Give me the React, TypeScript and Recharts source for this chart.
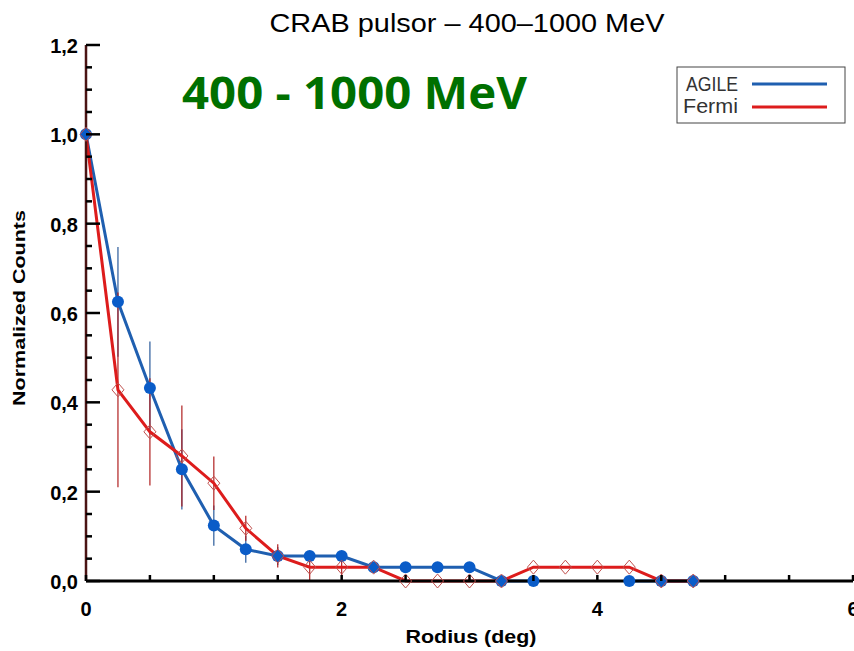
import React from 'react';
import { LineChart, Line, XAxis, YAxis, ErrorBar } from 'recharts';

// radial profile, normalized counts per annulus
const radius = [0, 0.25, 0.5, 0.75, 1, 1.25, 1.5, 1.75, 2, 2.25, 2.5, 2.75, 3, 3.25, 3.5, 3.75, 4, 4.25, 4.5, 4.75];
const agile = [1.0, 0.625, 0.432, 0.25, 0.124, 0.071, 0.056, 0.056, 0.056, 0.031, 0.031, 0.031, 0.031, 0.0, 0.0, null, null, 0.0, 0.0, 0.0];
const agileErr = [0, 0.123, 0.104, 0.09, 0.045, 0.03, 0.02, 0, 0, 0, 0, 0, 0, 0, 0, 0, 0, 0, 0, 0];
const fermi = [1.0, 0.428, 0.334, 0.28, 0.219, 0.118, 0.056, 0.031, 0.031, 0.031, 0, 0, 0, 0, 0.031, 0.031, 0.031, 0.031, 0, 0];
const fermiErr = [0, 0.218, 0.12, 0.113, 0.06, 0.028, 0.026, 0.03, 0.03, 0, 0, 0, 0, 0, 0, 0, 0, 0, 0, 0];

const xTicks = [0, 0.5, 1, 1.5, 2, 2.5, 3, 3.5, 4, 4.5, 5, 5.5, 6];
const xTickLabels: Record<string, string> = { '0': '0', '2': '2', '4': '4', '6': '6' };
const yTicks = [0, 0.05, 0.1, 0.15, 0.2, 0.25, 0.3, 0.35, 0.4, 0.45, 0.5, 0.55, 0.6, 0.65, 0.7, 0.75, 0.8, 0.85, 0.9, 0.95, 1, 1.05, 1.1, 1.15, 1.2];
const yTickLabels: Record<string, string> = {
  '0': '0,0', '0.2': '0,2', '0.4': '0,4', '0.6': '0,6', '0.8': '0,8', '1': '1,0', '1.2': '1,2',
};

const data = radius.map((r, i) => ({
  r,
  agile: agile[i],
  agileErr: agileErr[i],
  fermi: fermi[i],
  fermiErr: fermiErr[i],
}));

const AXIS_FONT = '"Liberation Sans", Arial, sans-serif';

const LeftTick = (props: any) => {
  const { x, y, payload } = props;
  const label = yTickLabels[String(payload.value)];
  return (
    <g>
      <line x1={x} x2={x + (label ? 14 : 6)} y1={y} y2={y} stroke="#000" strokeWidth={2.5} />
      {label && (
        <text x={x - 8} y={y + 8} textAnchor="end" fontFamily={AXIS_FONT} fontWeight="bold" fontSize={20} fill="#000">
          {label}
        </text>
      )}
    </g>
  );
};

const RightTick = (props: any) => {
  const { x, y, payload } = props;
  const major = yTickLabels[String(payload.value)] !== undefined;
  return <line x1={x} x2={x - (major ? 10 : 3)} y1={y} y2={y} stroke="#000" strokeWidth={2.5} />;
};

const BottomTick = (props: any) => {
  const { x, y, payload } = props;
  const label = xTickLabels[String(payload.value)];
  return (
    <g>
      <line x1={x} x2={x} y1={y} y2={y - 6} stroke="#000" strokeWidth={2.5} />
      {label && (
        <text x={x} y={y + 35} textAnchor="middle" fontFamily={AXIS_FONT} fontWeight="bold" fontSize={20} fill="#000">
          {label}
        </text>
      )}
    </g>
  );
};

const TopTick = (props: any) => {
  const { x, y } = props;
  return <line x1={x} x2={x} y1={y} y2={y + 5} stroke="#000" strokeWidth={2.5} />;
};

const Diamond = (props: any) => {
  const { cx, cy, index } = props;
  if (cx == null || cy == null) return <g key={index} />;
  return (
    <path
      key={index}
      d={`M${cx},${cy - 7} L${cx + 6},${cy} L${cx},${cy + 7} L${cx - 6},${cy} Z`}
      fill="none"
      stroke="#c0504d"
      strokeWidth={1}
    />
  );
};

export default function App() {
  return (
    <div style={{ position: 'absolute', left: 0, top: 0, width: 854, height: 651, background: '#fff' }}>
      <LineChart width={854} height={651} data={data} margin={{ top: 45, right: 1, bottom: 0, left: 0 }}>
        <XAxis
          dataKey="r"
          type="number"
          domain={[0, 6]}
          ticks={xTicks}
          interval={0}
          height={70}
          tickSize={0}
          tickMargin={0}
          tickLine={false}
          tick={<BottomTick />}
          axisLine={{ stroke: '#000', strokeWidth: 3 }}
        />
        <XAxis
          xAxisId="top"
          dataKey="r"
          type="number"
          orientation="top"
          domain={[0, 6]}
          ticks={xTicks}
          interval={0}
          height={0}
          tickSize={0}
          tickMargin={0}
          tickLine={false}
          tick={<TopTick />}
          axisLine={{ stroke: '#000', strokeWidth: 3 }}
        />
        <YAxis
          type="number"
          domain={[0, 1.2]}
          ticks={yTicks}
          interval={0}
          width={86}
          tickSize={0}
          tickMargin={0}
          tickLine={false}
          tick={<LeftTick />}
          axisLine={{ stroke: '#4a1414', strokeWidth: 2.5 }}
        />
        <YAxis
          yAxisId="right"
          type="number"
          orientation="right"
          domain={[0, 1.2]}
          ticks={yTicks}
          interval={0}
          width={0}
          tickSize={0}
          tickMargin={0}
          tickLine={false}
          tick={<RightTick />}
          axisLine={{ stroke: '#22227a', strokeWidth: 2 }}
        />
        <Line
          dataKey="agile"
          stroke="#1f5fb0"
          strokeWidth={3}
          dot={{ r: 6, fill: '#0a5cc8', stroke: 'none' }}
          isAnimationActive={false}
        >
          <ErrorBar dataKey="agileErr" width={0} stroke="#2a5a9a" strokeWidth={1.2} direction="y" />
        </Line>
        <Line
          dataKey="fermi"
          stroke="#dd1c1c"
          strokeWidth={3}
          dot={Diamond}
          isAnimationActive={false}
        >
          <ErrorBar dataKey="fermiErr" width={0} stroke="#b02020" strokeWidth={1.2} direction="y" />
        </Line>
      </LineChart>
      <svg width={854} height={651} style={{ position: 'absolute', left: 0, top: 0, pointerEvents: 'none' }}>
        <text x={467} y={32} textAnchor="middle" fontFamily={AXIS_FONT} fontSize={25} textLength={395} lengthAdjust="spacingAndGlyphs" fill="#000">
          CRAB pulsor – 400–1000 MeV
        </text>
        <text x={182} y={109} fontFamily='"Open Sans", sans-serif' fontWeight="bold" fontSize={45} textLength={345} lengthAdjust="spacingAndGlyphs" fill="#007000">
          400 - 1000 MeV
        </text>
        <text x={471} y={643} textAnchor="middle" fontFamily={AXIS_FONT} fontWeight="bold" fontSize={18} textLength={131} lengthAdjust="spacingAndGlyphs" fill="#000">
          Rodius (deg)
        </text>
        <text
          x={0}
          y={0}
          transform="translate(25,308) rotate(-90)"
          textAnchor="middle"
          fontFamily={AXIS_FONT}
          fontWeight="bold"
          fontSize={16}
          textLength={196}
          lengthAdjust="spacingAndGlyphs"
          fill="#000"
        >
          Normalized Counts
        </text>
        <rect x={677} y={67} width={168} height={56} fill="#fff" stroke="#444" strokeWidth={1} />
        <text x={686} y={91} fontFamily={AXIS_FONT} fontSize={20} textLength={52} lengthAdjust="spacingAndGlyphs" fill="#333">
          AGILE
        </text>
        <line x1={752} x2={827} y1={84} y2={84} stroke="#1f5fb0" strokeWidth={3} />
        <text x={683} y={113} fontFamily={AXIS_FONT} fontSize={20} textLength={55} lengthAdjust="spacingAndGlyphs" fill="#333">
          Fermi
        </text>
        <line x1={752} x2={827} y1={107} y2={107} stroke="#dd1c1c" strokeWidth={3} />
      </svg>
    </div>
  );
}
